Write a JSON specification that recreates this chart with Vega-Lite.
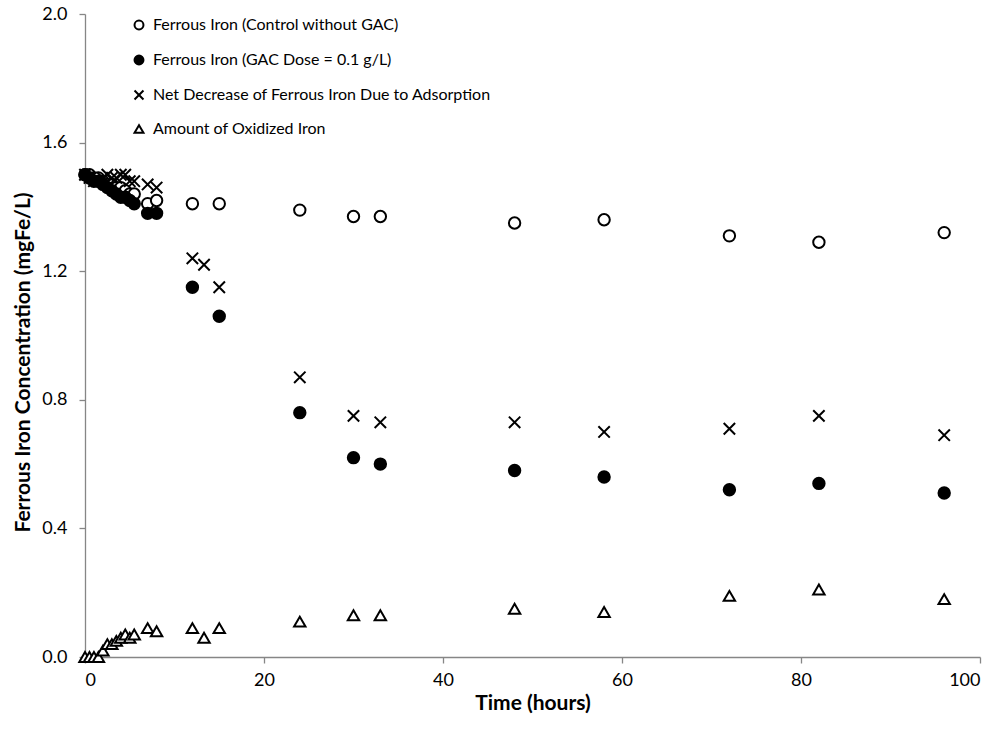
{
  "$schema": "https://vega.github.io/schema/vega-lite/v6.json",
  "width": 895,
  "height": 643,
  "autosize": {"type": "none"},
  "padding": {"left": 85, "top": 14, "right": 18, "bottom": 72},
  "background": "white",
  "config": {
    "view": {"stroke": null},
    "font": "Lato",
    "axis": {
      "grid": false,
      "domainColor": "#868686",
      "tickColor": "#868686",
      "domainWidth": 1.3,
      "tickWidth": 1.3,
      "labelColor": "black",
      "titleColor": "black",
      "labelFont": "Lato",
      "titleFont": "Lato",
      "labelFontSize": 18,
      "titleFontSize": 21,
      "titleFontWeight": "bold"
    }
  },
  "data": {
    "values": [
      {"t": 0, "series": "Ferrous Iron (Control without GAC)", "c": 1.50},
      {"t": 0.5, "series": "Ferrous Iron (Control without GAC)", "c": 1.50},
      {"t": 1, "series": "Ferrous Iron (Control without GAC)", "c": 1.49},
      {"t": 1.5, "series": "Ferrous Iron (Control without GAC)", "c": 1.49},
      {"t": 2, "series": "Ferrous Iron (Control without GAC)", "c": 1.48},
      {"t": 2.5, "series": "Ferrous Iron (Control without GAC)", "c": 1.47},
      {"t": 3, "series": "Ferrous Iron (Control without GAC)", "c": 1.47},
      {"t": 3.5, "series": "Ferrous Iron (Control without GAC)", "c": 1.46},
      {"t": 4, "series": "Ferrous Iron (Control without GAC)", "c": 1.46},
      {"t": 4.5, "series": "Ferrous Iron (Control without GAC)", "c": 1.45},
      {"t": 5, "series": "Ferrous Iron (Control without GAC)", "c": 1.44},
      {"t": 5.5, "series": "Ferrous Iron (Control without GAC)", "c": 1.44},
      {"t": 7, "series": "Ferrous Iron (Control without GAC)", "c": 1.41},
      {"t": 8, "series": "Ferrous Iron (Control without GAC)", "c": 1.42},
      {"t": 12, "series": "Ferrous Iron (Control without GAC)", "c": 1.41},
      {"t": 15, "series": "Ferrous Iron (Control without GAC)", "c": 1.41},
      {"t": 24, "series": "Ferrous Iron (Control without GAC)", "c": 1.39},
      {"t": 30, "series": "Ferrous Iron (Control without GAC)", "c": 1.37},
      {"t": 33, "series": "Ferrous Iron (Control without GAC)", "c": 1.37},
      {"t": 48, "series": "Ferrous Iron (Control without GAC)", "c": 1.35},
      {"t": 58, "series": "Ferrous Iron (Control without GAC)", "c": 1.36},
      {"t": 72, "series": "Ferrous Iron (Control without GAC)", "c": 1.31},
      {"t": 82, "series": "Ferrous Iron (Control without GAC)", "c": 1.29},
      {"t": 96, "series": "Ferrous Iron (Control without GAC)", "c": 1.32},

      {"t": 0, "series": "Ferrous Iron (GAC Dose = 0.1 g/L)", "c": 1.50},
      {"t": 0.5, "series": "Ferrous Iron (GAC Dose = 0.1 g/L)", "c": 1.49},
      {"t": 1, "series": "Ferrous Iron (GAC Dose = 0.1 g/L)", "c": 1.48},
      {"t": 1.5, "series": "Ferrous Iron (GAC Dose = 0.1 g/L)", "c": 1.48},
      {"t": 2, "series": "Ferrous Iron (GAC Dose = 0.1 g/L)", "c": 1.47},
      {"t": 2.5, "series": "Ferrous Iron (GAC Dose = 0.1 g/L)", "c": 1.46},
      {"t": 3, "series": "Ferrous Iron (GAC Dose = 0.1 g/L)", "c": 1.45},
      {"t": 3.5, "series": "Ferrous Iron (GAC Dose = 0.1 g/L)", "c": 1.44},
      {"t": 4, "series": "Ferrous Iron (GAC Dose = 0.1 g/L)", "c": 1.43},
      {"t": 4.5, "series": "Ferrous Iron (GAC Dose = 0.1 g/L)", "c": 1.43},
      {"t": 5, "series": "Ferrous Iron (GAC Dose = 0.1 g/L)", "c": 1.42},
      {"t": 5.5, "series": "Ferrous Iron (GAC Dose = 0.1 g/L)", "c": 1.41},
      {"t": 7, "series": "Ferrous Iron (GAC Dose = 0.1 g/L)", "c": 1.38},
      {"t": 8, "series": "Ferrous Iron (GAC Dose = 0.1 g/L)", "c": 1.38},
      {"t": 12, "series": "Ferrous Iron (GAC Dose = 0.1 g/L)", "c": 1.15},
      {"t": 15, "series": "Ferrous Iron (GAC Dose = 0.1 g/L)", "c": 1.06},
      {"t": 24, "series": "Ferrous Iron (GAC Dose = 0.1 g/L)", "c": 0.76},
      {"t": 30, "series": "Ferrous Iron (GAC Dose = 0.1 g/L)", "c": 0.62},
      {"t": 33, "series": "Ferrous Iron (GAC Dose = 0.1 g/L)", "c": 0.60},
      {"t": 48, "series": "Ferrous Iron (GAC Dose = 0.1 g/L)", "c": 0.58},
      {"t": 58, "series": "Ferrous Iron (GAC Dose = 0.1 g/L)", "c": 0.56},
      {"t": 72, "series": "Ferrous Iron (GAC Dose = 0.1 g/L)", "c": 0.52},
      {"t": 82, "series": "Ferrous Iron (GAC Dose = 0.1 g/L)", "c": 0.54},
      {"t": 96, "series": "Ferrous Iron (GAC Dose = 0.1 g/L)", "c": 0.51},

      {"t": 0, "series": "Net Decrease of Ferrous Iron Due to Adsorption", "c": 1.50},
      {"t": 0.5, "series": "Net Decrease of Ferrous Iron Due to Adsorption", "c": 1.49},
      {"t": 1, "series": "Net Decrease of Ferrous Iron Due to Adsorption", "c": 1.48},
      {"t": 1.5, "series": "Net Decrease of Ferrous Iron Due to Adsorption", "c": 1.48},
      {"t": 2, "series": "Net Decrease of Ferrous Iron Due to Adsorption", "c": 1.49},
      {"t": 2.5, "series": "Net Decrease of Ferrous Iron Due to Adsorption", "c": 1.50},
      {"t": 3, "series": "Net Decrease of Ferrous Iron Due to Adsorption", "c": 1.49},
      {"t": 3.5, "series": "Net Decrease of Ferrous Iron Due to Adsorption", "c": 1.49},
      {"t": 4, "series": "Net Decrease of Ferrous Iron Due to Adsorption", "c": 1.50},
      {"t": 4.5, "series": "Net Decrease of Ferrous Iron Due to Adsorption", "c": 1.50},
      {"t": 5, "series": "Net Decrease of Ferrous Iron Due to Adsorption", "c": 1.48},
      {"t": 5.5, "series": "Net Decrease of Ferrous Iron Due to Adsorption", "c": 1.48},
      {"t": 7, "series": "Net Decrease of Ferrous Iron Due to Adsorption", "c": 1.47},
      {"t": 8, "series": "Net Decrease of Ferrous Iron Due to Adsorption", "c": 1.46},
      {"t": 12, "series": "Net Decrease of Ferrous Iron Due to Adsorption", "c": 1.24},
      {"t": 13.3, "series": "Net Decrease of Ferrous Iron Due to Adsorption", "c": 1.22},
      {"t": 15, "series": "Net Decrease of Ferrous Iron Due to Adsorption", "c": 1.15},
      {"t": 24, "series": "Net Decrease of Ferrous Iron Due to Adsorption", "c": 0.87},
      {"t": 30, "series": "Net Decrease of Ferrous Iron Due to Adsorption", "c": 0.75},
      {"t": 33, "series": "Net Decrease of Ferrous Iron Due to Adsorption", "c": 0.73},
      {"t": 48, "series": "Net Decrease of Ferrous Iron Due to Adsorption", "c": 0.73},
      {"t": 58, "series": "Net Decrease of Ferrous Iron Due to Adsorption", "c": 0.70},
      {"t": 72, "series": "Net Decrease of Ferrous Iron Due to Adsorption", "c": 0.71},
      {"t": 82, "series": "Net Decrease of Ferrous Iron Due to Adsorption", "c": 0.75},
      {"t": 96, "series": "Net Decrease of Ferrous Iron Due to Adsorption", "c": 0.69},

      {"t": 0, "series": "Amount of Oxidized Iron", "c": 0.00},
      {"t": 0.5, "series": "Amount of Oxidized Iron", "c": 0.00},
      {"t": 1, "series": "Amount of Oxidized Iron", "c": 0.00},
      {"t": 1.5, "series": "Amount of Oxidized Iron", "c": 0.00},
      {"t": 2, "series": "Amount of Oxidized Iron", "c": 0.02},
      {"t": 2.5, "series": "Amount of Oxidized Iron", "c": 0.04},
      {"t": 3, "series": "Amount of Oxidized Iron", "c": 0.04},
      {"t": 3.5, "series": "Amount of Oxidized Iron", "c": 0.05},
      {"t": 4, "series": "Amount of Oxidized Iron", "c": 0.06},
      {"t": 4.5, "series": "Amount of Oxidized Iron", "c": 0.07},
      {"t": 5, "series": "Amount of Oxidized Iron", "c": 0.06},
      {"t": 5.5, "series": "Amount of Oxidized Iron", "c": 0.07},
      {"t": 7, "series": "Amount of Oxidized Iron", "c": 0.09},
      {"t": 8, "series": "Amount of Oxidized Iron", "c": 0.08},
      {"t": 12, "series": "Amount of Oxidized Iron", "c": 0.09},
      {"t": 13.3, "series": "Amount of Oxidized Iron", "c": 0.06},
      {"t": 15, "series": "Amount of Oxidized Iron", "c": 0.09},
      {"t": 24, "series": "Amount of Oxidized Iron", "c": 0.11},
      {"t": 30, "series": "Amount of Oxidized Iron", "c": 0.13},
      {"t": 33, "series": "Amount of Oxidized Iron", "c": 0.13},
      {"t": 48, "series": "Amount of Oxidized Iron", "c": 0.15},
      {"t": 58, "series": "Amount of Oxidized Iron", "c": 0.14},
      {"t": 72, "series": "Amount of Oxidized Iron", "c": 0.19},
      {"t": 82, "series": "Amount of Oxidized Iron", "c": 0.21},
      {"t": 96, "series": "Amount of Oxidized Iron", "c": 0.18}
    ]
  },
  "mark": {"type": "point", "size": 130, "strokeWidth": 2, "stroke": "black", "opacity": 1},
  "encoding": {
    "x": {
      "field": "t", "type": "quantitative",
      "scale": {"domain": [0, 100], "nice": false, "zero": false},
      "axis": {"title": "Time (hours)", "values": [0, 20, 40, 60, 80, 100], "tickSize": 6, "labelPadding": 8, "titlePadding": 3}
    },
    "y": {
      "field": "c", "type": "quantitative",
      "scale": {"domain": [0, 2], "nice": false},
      "axis": {"title": "Ferrous Iron Concentration (mgFe/L)", "values": [0, 0.4, 0.8, 1.2, 1.6, 2.0], "format": ".1f", "tickSize": 6, "labelPadding": 12, "titlePadding": 8, "titleY": 348}
    },
    "shape": {
      "field": "series", "type": "nominal",
      "scale": {
        "domain": ["Ferrous Iron (Control without GAC)", "Ferrous Iron (GAC Dose = 0.1 g/L)", "Net Decrease of Ferrous Iron Due to Adsorption", "Amount of Oxidized Iron"],
        "range": ["circle", "circle", "M-1,-1L1,1M-1,1L1,-1", "triangle-up"]
      },
      "legend": {
        "title": null, "orient": "none", "legendX": 46, "legendY": 3,
        "labelFontSize": 16, "labelFont": "Lato", "labelColor": "black", "symbolSize": 80,
        "symbolStrokeWidth": 2, "rowPadding": 17, "labelOffset": 6, "labelLimit": 600
      }
    },
    "fill": {
      "field": "series", "type": "nominal",
      "scale": {
        "domain": ["Ferrous Iron (Control without GAC)", "Ferrous Iron (GAC Dose = 0.1 g/L)", "Net Decrease of Ferrous Iron Due to Adsorption", "Amount of Oxidized Iron"],
        "range": ["white", "black", "white", "white"]
      },
      "legend": {
        "title": null, "orient": "none", "legendX": 46, "legendY": 3,
        "labelFontSize": 16, "labelFont": "Lato", "labelColor": "black", "symbolSize": 80,
        "symbolStrokeWidth": 2, "rowPadding": 17, "labelOffset": 6, "labelLimit": 600
      }
    }
  }
}
